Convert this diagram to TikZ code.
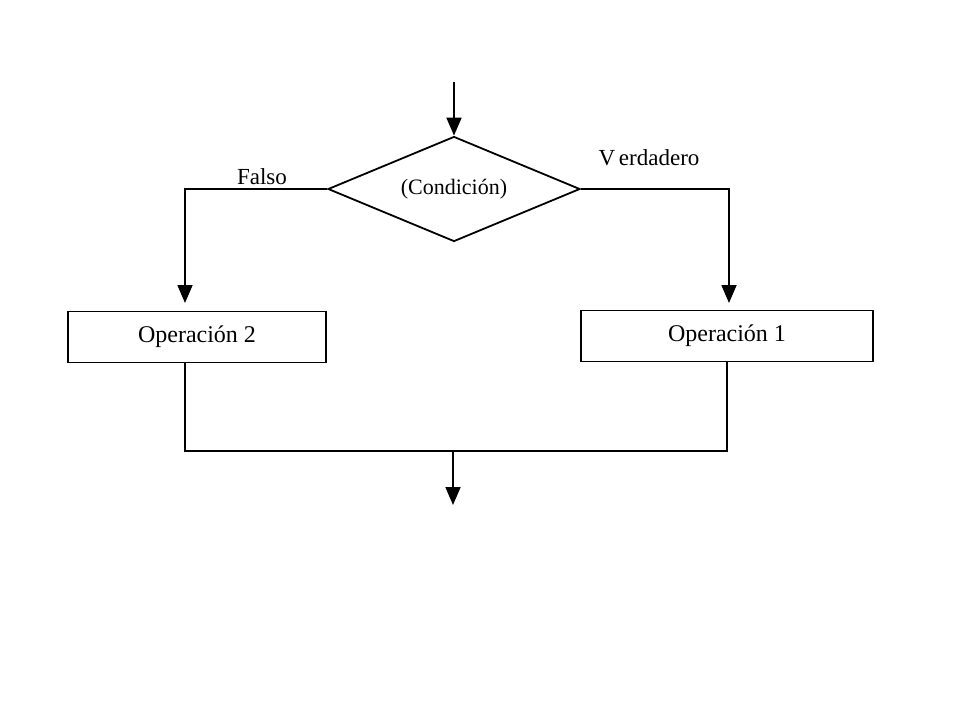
\documentclass[tikz,border=0pt]{standalone}
\usepackage{fontspec}
\setmainfont{Liberation Serif}
\usetikzlibrary{arrows.meta,positioning,shapes.geometric}

\begin{document}
\begin{tikzpicture}[x={(0.5pt,0)}, y={(0,-0.5pt)},
    >={Triangle[width=7.5pt,length=9pt]}, line width=0.9pt,
    decision/.style={draw, diamond, aspect=2.4, inner sep=0pt, minimum width=126pt, minimum height=52.5pt, font=\fontsize{11}{13}\selectfont},
    opbox/.style={draw, rectangle, inner sep=0pt, minimum height=25.5pt, font=\fontsize{12}{14}\selectfont},
    lbl/.style={font=\fontsize{11.5}{13}\selectfont}]
    \useasboundingbox (0,0) rectangle (960,720);

    % Condition
    \coordinate (start) at (454,82);
    \node[decision] (cond) at (454,189) {(Condición)};
    \draw[->] (start) -- (cond.north);

    % Operations
    \node[opbox, minimum width=129pt] (op2) at (197,337) {Operación 2};
    \node[opbox, minimum width=146pt] (op1) at (727,336) {Operación 1};

    % Branches
    \coordinate (ltip) at (185,303);
    \coordinate (rtip) at (729,303);
    \draw[->] (cond.west) -| (ltip);
    \draw[->] (cond.east) -| (rtip);
    \node[lbl] (falso) at (262,177) {Falso};
    \node[lbl] (verdad) at (649,158) {V\,erdadero};

    % Join
    \coordinate (lj) at (185,451);
    \coordinate (rj) at (727,451);
    \draw (op2.south -| lj) -- (lj) -- (rj) -- (op1.south);
    \coordinate (merge) at (453,451);
    \coordinate (end) at (453,505);
    \draw[->] (merge) -- (end);
\end{tikzpicture}
\end{document}
